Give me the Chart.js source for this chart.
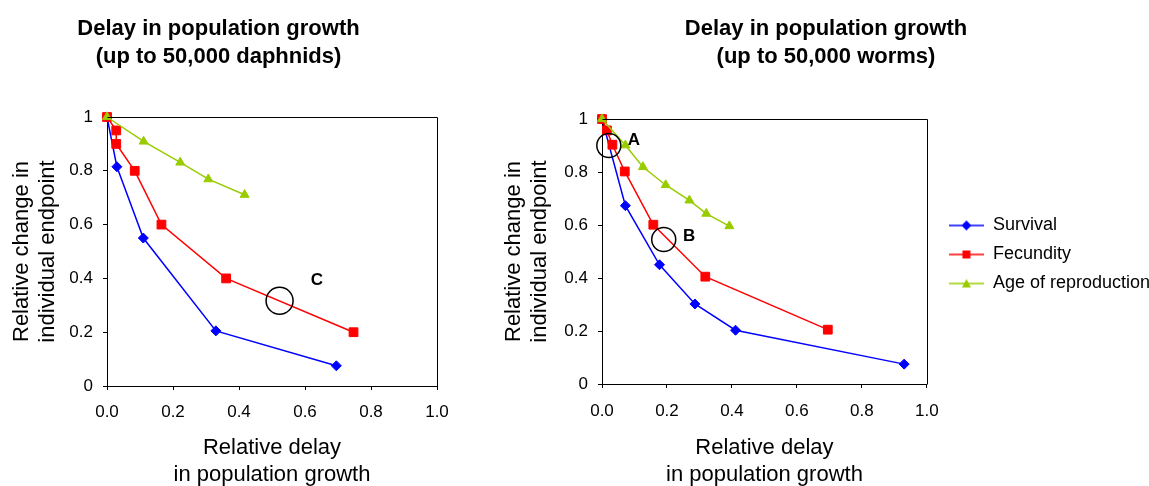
<!DOCTYPE html>
<html>
<head>
<meta charset="utf-8">
<script src="https://cdn.jsdelivr.net/npm/chart.js"></script>
<style>
  html, body { margin: 0; padding: 0; background: #fff; overflow: hidden; }
  body { width: 1149px; height: 486px; position: relative; }
  .box { position: absolute; top: 0; height: 486px; }
  #left { left: 0; width: 455px; }
  #right { left: 492px; width: 668px; }
</style>
</head>
<body>
<div class="box" id="left"><canvas id="chart-daphnids"></canvas></div>
<div class="box" id="right"><canvas id="chart-worms"></canvas></div>
<script>
const seriesNames = ['Survival', 'Fecundity', 'Age of reproduction'];
const seriesColors = ['#0000ff', '#ff0000', '#99cc00'];
const xTickLabels = ['0.0', '0.2', '0.4', '0.6', '0.8', '1.0'];
const yTickLabels = ['0', '0.2', '0.4', '0.6', '0.8', '1'];

// daphnids (left)
const daphSurvivalX = [0, 0.03, 0.11, 0.33, 0.695];
const daphSurvivalY = [1, 0.815, 0.55, 0.205, 0.075];
const daphFecundityX = [0, 0.028, 0.028, 0.084, 0.165, 0.361, 0.747];
const daphFecundityY = [1, 0.95, 0.9, 0.8, 0.6, 0.4, 0.2];
const daphAgeX = [0, 0.111, 0.222, 0.307, 0.417];
const daphAgeY = [1, 0.909, 0.831, 0.769, 0.711];
const daphMarkLabels = ['C'];
const daphMarkX = [0.523];
const daphMarkY = [0.317];
const daphLabelX = [0.636];
const daphLabelY = [0.394];

// worms (right)
const wormSurvivalX = [0, 0.072, 0.177, 0.286, 0.411, 0.93];
const wormSurvivalY = [1, 0.673, 0.45, 0.302, 0.203, 0.075];
const wormFecundityX = [0, 0.015, 0.032, 0.07, 0.158, 0.318, 0.695];
const wormFecundityY = [1, 0.957, 0.903, 0.802, 0.601, 0.405, 0.205];
const wormAgeX = [0, 0.072, 0.126, 0.196, 0.269, 0.321, 0.392];
const wormAgeY = [1, 0.901, 0.819, 0.751, 0.693, 0.643, 0.596];
const wormMarkLabels = ['A', 'B'];
const wormMarkX = [0.021, 0.19];
const wormMarkY = [0.9, 0.545];
const wormLabelX = [0.098, 0.268];
const wormLabelY = [0.918, 0.556];

const FONT = '"Liberation Sans", Arial, sans-serif';
Chart.defaults.font.family = FONT;
Chart.defaults.color = '#000';

const pts = (xs, ys) => xs.map((x, i) => ({x: x, y: ys[i]}));

function legendIcon(color, shape) {
  const c = document.createElement('canvas');
  c.width = 35; c.height = 14;
  const g = c.getContext('2d');
  g.strokeStyle = color; g.fillStyle = color; g.lineWidth = 1.5;
  g.beginPath(); g.moveTo(0, 7); g.lineTo(35, 7); g.stroke();
  g.beginPath();
  if (shape === 'rectRot') { g.moveTo(12.5, 7); g.lineTo(17.5, 2); g.lineTo(22.5, 7); g.lineTo(17.5, 12); }
  else if (shape === 'rect') { g.rect(13.5, 3, 8, 8); }
  else { g.moveTo(17.5, 2.5); g.lineTo(22, 11); g.lineTo(13, 11); }
  g.closePath(); g.fill();
  return c;
}
const shapes = ['rectRot', 'rect', 'triangle'];
const radii = [5, 6.2, 5.2];
const legendIcons = shapes.map((s, i) => legendIcon(seriesColors[i], s));

const framePlugin = {
  id: 'frame',
  afterDraw(chart) {
    const {ctx, chartArea: a} = chart;
    const l = Math.round(a.left) + 0.5, t = Math.round(a.top) + 0.5;
    const r = Math.round(a.right) + 0.5, b = Math.round(a.bottom) + 0.5;
    ctx.save();
    ctx.strokeStyle = '#000'; ctx.lineWidth = 1;
    ctx.beginPath(); ctx.moveTo(l, t); ctx.lineTo(r, t); ctx.lineTo(r, b); ctx.stroke();
    ctx.restore();
  }
};

const letterPlugin = {
  id: 'letters',
  afterDatasetsDraw(chart, args, opts) {
    const {ctx, scales} = chart;
    ctx.save();
    ctx.font = 'bold 17px ' + FONT;
    ctx.fillStyle = '#000';
    ctx.textAlign = 'center'; ctx.textBaseline = 'middle';
    opts.text.forEach((t, i) => {
      ctx.fillText(t, scales.x.getPixelForValue(opts.x[i]), scales.y.getPixelForValue(opts.y[i]));
    });
    ctx.restore();
  }
};

function makeDatasets(xs, ys, markX, markY, markR) {
  const sets = xs.map((x, i) => ({
    label: seriesNames[i],
    data: pts(x, ys[i]),
    borderColor: seriesColors[i],
    backgroundColor: seriesColors[i],
    borderWidth: 1.5,
    pointStyle: shapes[i],
    pointRadius: radii[i],
    pointHoverRadius: radii[i],
    pointBorderWidth: 1,
    order: 3 - i,
    clip: false
  }));
  sets.push({
    label: 'marks',
    data: pts(markX, markY),
    showLine: false,
    pointStyle: 'circle',
    pointRadius: markR,
    pointHoverRadius: markR,
    pointBackgroundColor: 'rgba(0,0,0,0)',
    pointBorderColor: '#000',
    pointBorderWidth: 1.5,
    order: 0,
    clip: false
  });
  return sets;
}

function axes(yWidth, xHeight, xPad) {
  const grid = {display: true, drawOnChartArea: false, drawTicks: true, tickLength: 4, color: '#000', lineWidth: 1};
  const border = {display: true, color: '#000', width: 1};
  return {
    x: {
      type: 'linear', min: 0, max: 1,
      grid: grid, border: border,
      ticks: {stepSize: 0.2, padding: xPad, font: {size: 17}, color: '#000', callback: (v, i) => xTickLabels[i]},
      title: {display: true, text: ['Relative delay', 'in population growth'], font: {size: 22, lineHeight: 1.2}, padding: {top: 0, bottom: -2}, color: '#000'},
      afterFit: s => { s.height = xHeight; s.paddingLeft = 0; s.paddingRight = 0; }
    },
    y: {
      type: 'linear', min: 0, max: 1,
      grid: grid, border: border,
      ticks: {stepSize: 0.2, padding: 10, font: {size: 17}, color: '#000', callback: (v, i) => yTickLabels[i]},
      title: {display: true, text: ['Relative change in', 'individual endpoint'], font: {size: 22, lineHeight: 1.18}, padding: {top: 9, bottom: 0}, color: '#000'},
      afterFit: s => { s.width = yWidth; }
    }
  };
}

function titleOpts(line2, bottom) {
  return {
    display: true,
    text: ['Delay in population growth', line2],
    font: {size: 22, weight: 'bold', lineHeight: 28 / 22},
    padding: {top: 15, bottom: bottom},
    color: '#000'
  };
}

new Chart(document.getElementById('chart-daphnids'), {
  type: 'line',
  data: {datasets: makeDatasets([daphSurvivalX, daphFecundityX, daphAgeX], [daphSurvivalY, daphFecundityY, daphAgeY], daphMarkX, daphMarkY, 13.5)},
  options: {
    responsive: true, maintainAspectRatio: false, animation: false, events: [],
    layout: {padding: {left: 0, right: 18, top: 0, bottom: 0}},
    scales: axes(107, 100, 12),
    plugins: {
      legend: {display: false},
      tooltip: {enabled: false},
      title: titleOpts('(up to 50,000 daphnids)', 46),
      letters: {text: daphMarkLabels, x: daphLabelX, y: daphLabelY}
    }
  },
  plugins: [framePlugin, letterPlugin]
});

const wormScales = axes(110, 102, 13);
wormScales.y2 = {
  type: 'linear', position: 'right', display: true,
  grid: {display: false}, border: {display: false}, ticks: {display: false},
  afterFit: s => { s.width = 11; }
};

new Chart(document.getElementById('chart-worms'), {
  type: 'line',
  data: {datasets: makeDatasets([wormSurvivalX, wormFecundityX, wormAgeX], [wormSurvivalY, wormFecundityY, wormAgeY], wormMarkX, wormMarkY, 12)},
  options: {
    responsive: true, maintainAspectRatio: false, animation: false, events: [],
    layout: {padding: 0},
    scales: wormScales,
    plugins: {
      legend: {
        display: true, position: 'right', align: 'center', fullSize: false, maxWidth: 240,
        title: {display: true, text: ' ', padding: 0, font: {size: 6, lineHeight: 1}},
        labels: {
          usePointStyle: true, pointStyleWidth: 35, padding: 11,
          font: {size: 18}, color: '#000',
          filter: item => item.datasetIndex < 3,
          sort: (a, b) => a.datasetIndex - b.datasetIndex,
          generateLabels(chart) {
            const items = Chart.defaults.plugins.legend.labels.generateLabels(chart);
            items.forEach(it => { it.pointStyle = legendIcons[it.datasetIndex]; });
            return items;
          }
        }
      },
      tooltip: {enabled: false},
      title: titleOpts('(up to 50,000 worms)', 48),
      letters: {text: wormMarkLabels, x: wormLabelX, y: wormLabelY}
    }
  },
  plugins: [framePlugin, letterPlugin]
});
</script>
</body>
</html>
